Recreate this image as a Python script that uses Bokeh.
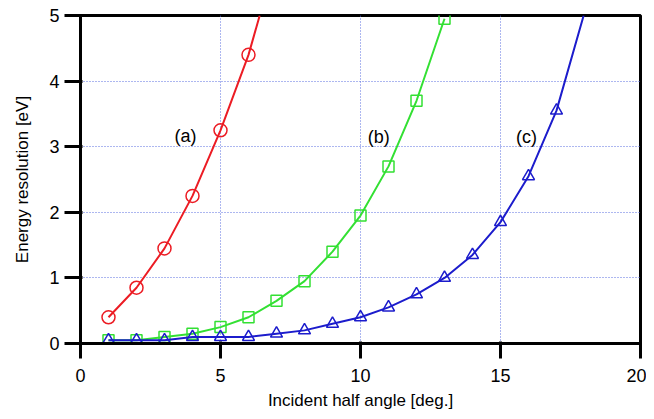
from bokeh.plotting import figure
from bokeh.models import Range1d, FixedTicker, Label
from bokeh.embed import file_html
from bokeh.resources import INLINE

# Series (a): red circles
xa = [1, 2, 3, 4, 5, 6]
ya = [0.40, 0.85, 1.45, 2.25, 3.25, 4.40]
xa_end, ya_end = 6.4, 5.0

# Series (b): green squares
xb = [1, 2, 3, 4, 5, 6, 7, 8, 9, 10, 11, 12, 13]
yb = [0.05, 0.05, 0.10, 0.15, 0.25, 0.40, 0.65, 0.95, 1.40, 1.95, 2.70, 3.70, 4.95]

# Series (c): blue triangles
xc = [1, 2, 3, 4, 5, 6, 7, 8, 9, 10, 11, 12, 13, 14, 15, 16, 17]
yc = [0.05, 0.05, 0.05, 0.10, 0.10, 0.10, 0.15, 0.20, 0.30, 0.40, 0.55, 0.75,
      1.00, 1.35, 1.85, 2.55, 3.55]
xc_end, yc_end = 17.97, 5.0

x_ticks = [0, 5, 10, 15, 20]
y_ticks = [0, 1, 2, 3, 4, 5]
labels = ["(a)", "(b)", "(c)"]
label_x = [3.75, 10.65, 15.93]
label_y = [3.16, 3.15, 3.15]

RED = "#ec1c24"
GREEN = "#33e033"
BLUE = "#1c1ccc"
FONT = "Liberation Sans"

p = figure(width=646, height=419, output_backend="svg", toolbar_location=None,
           x_range=Range1d(0, 20), y_range=Range1d(0, 5),
           min_border_left=80, min_border_right=6, min_border_top=15, min_border_bottom=76)

p.outline_line_color = "black"
p.outline_line_width = 3
p.background_fill_color = "white"
p.border_fill_color = "white"

xax = p.xaxis[0]
yax = p.yaxis[0]
for ax in (xax, yax):
    ax.axis_line_color = "black"
    ax.axis_line_width = 3
    ax.major_tick_line_color = "black"
    ax.major_tick_line_width = 3
    ax.minor_tick_out = 0
    ax.minor_tick_in = 0
    ax.major_label_text_font = FONT
    ax.major_label_text_font_size = "18px"
    ax.major_label_text_color = "black"
    ax.axis_label_text_font = FONT
    ax.axis_label_text_font_size = "17px"
    ax.axis_label_text_font_style = "normal"
    ax.axis_label_text_color = "black"

xax.ticker = FixedTicker(ticks=x_ticks)
yax.ticker = FixedTicker(ticks=y_ticks)
xax.major_tick_out = 15
yax.major_tick_out = 16
xax.major_label_standoff = 10
yax.major_label_standoff = 5
xax.axis_label = "Incident half angle [deg.]"
yax.axis_label = "Energy resolution [eV]"
xax.axis_label_standoff = 6
yax.axis_label_standoff = 14

p.xgrid.ticker = FixedTicker(ticks=[5, 10, 15])
p.ygrid.ticker = FixedTicker(ticks=[1, 2, 3, 4])
p.grid.grid_line_color = "#5a6fe0"
p.grid.grid_line_dash = "1 2"
p.grid.grid_line_width = 1

p.line(xa + [xa_end], ya + [ya_end], line_color=RED, line_width=2)
p.scatter(xa, ya, marker="circle", size=13, fill_color=None, line_color=RED, line_width=1.5)

p.line(xb, yb, line_color=GREEN, line_width=2)
p.scatter(xb, yb, marker="square", size=11, fill_color=None, line_color=GREEN, line_width=1.5)

p.line(xc + [xc_end], yc + [yc_end], line_color=BLUE, line_width=2)
p.scatter(xc, yc, marker="triangle", size=12, fill_color=None, line_color=BLUE, line_width=1.5)

for t, lx, ly in zip(labels, label_x, label_y):
    p.add_layout(Label(x=lx, y=ly, text=t, text_font=FONT, text_font_size="18px",
                       text_align="center", text_baseline="middle", text_color="black"))

open("out.html", "w").write(file_html(p, INLINE))
